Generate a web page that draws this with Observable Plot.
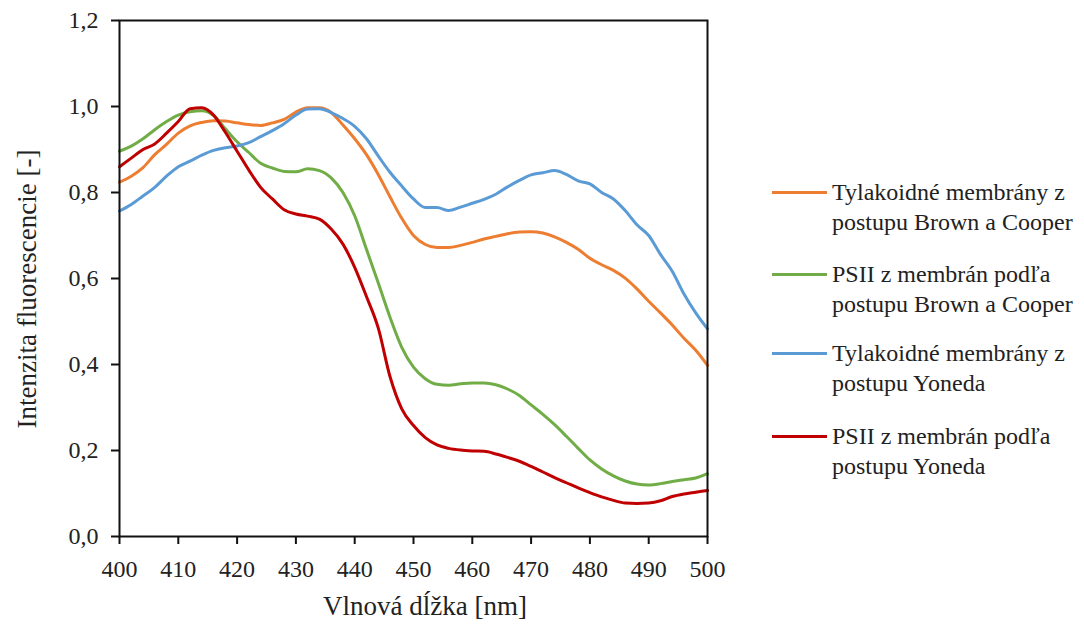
<!DOCTYPE html>
<html>
<head>
<meta charset="utf-8">
<script src="https://cdn.jsdelivr.net/npm/d3@7"></script>
<script src="https://cdn.jsdelivr.net/npm/@observablehq/plot@0.6"></script>
<style>
  html, body { margin: 0; padding: 0; background: #fff; }
  #wrap { position: relative; width: 1084px; height: 628px; font-family: 'Liberation Serif', serif; color: #222; }
  #wrap svg { position: absolute; left: 0; top: 0; font-family: 'Liberation Serif', serif; }
  .ttl { position: absolute; font-family: 'Liberation Serif', serif; font-size: 27px; line-height: 1; white-space: nowrap; }
  .leg { position: absolute; left: 772px; display: flex; align-items: flex-start; }
  .sw { width: 55px; height: 3px; }
  .lt { font-family: 'Liberation Serif', serif; font-size: 24px; line-height: 30px; margin-left: 5px; white-space: nowrap; }
</style>
</head>
<body>
<div id="wrap"></div>
<script>
const wavelengths = [400,402,404,406,408,410,412,414,416,418,420,422,424,426,428,430,432,434,436,438,440,442,444,446,448,450,452,454,456,458,460,462,464,466,468,470,472,474,476,478,480,482,484,486,488,490,492,494,496,498,500];

const tylBrownCooper = [0.824,0.838,0.858,0.888,0.912,0.938,0.955,0.963,0.967,0.966,0.962,0.958,0.956,0.962,0.970,0.987,0.997,0.997,0.986,0.957,0.925,0.888,0.842,0.790,0.740,0.700,0.679,0.672,0.672,0.677,0.684,0.692,0.698,0.704,0.708,0.709,0.706,0.697,0.684,0.668,0.647,0.632,0.619,0.601,0.576,0.547,0.520,0.492,0.461,0.433,0.398];

const psiiBrownCooper = [0.896,0.908,0.925,0.946,0.965,0.980,0.988,0.990,0.979,0.948,0.918,0.893,0.868,0.857,0.849,0.848,0.855,0.851,0.834,0.800,0.746,0.668,0.590,0.510,0.440,0.394,0.367,0.354,0.352,0.355,0.357,0.357,0.353,0.343,0.328,0.306,0.284,0.260,0.233,0.205,0.178,0.157,0.141,0.129,0.122,0.120,0.123,0.128,0.132,0.136,0.146];

const tylYoneda = [0.757,0.772,0.792,0.812,0.838,0.860,0.873,0.887,0.898,0.904,0.908,0.916,0.930,0.944,0.960,0.980,0.994,0.995,0.986,0.972,0.954,0.925,0.885,0.847,0.815,0.785,0.765,0.765,0.758,0.766,0.775,0.784,0.796,0.813,0.828,0.841,0.846,0.851,0.842,0.827,0.820,0.800,0.785,0.758,0.725,0.700,0.656,0.617,0.564,0.520,0.483];

const psiiYoneda = [0.860,0.880,0.900,0.913,0.938,0.965,0.995,0.997,0.980,0.940,0.896,0.852,0.812,0.785,0.760,0.750,0.745,0.738,0.715,0.680,0.626,0.558,0.485,0.372,0.297,0.258,0.230,0.213,0.205,0.201,0.199,0.198,0.192,0.184,0.175,0.163,0.150,0.137,0.125,0.113,0.102,0.092,0.084,0.078,0.077,0.078,0.083,0.093,0.099,0.103,0.107];

const seriesNames = [
  "Tylakoidné membrány z postupu Brown a Cooper",
  "PSII z membrán podľa postupu Brown a Cooper",
  "Tylakoidné membrány z postupu Yoneda",
  "PSII z membrán podľa postupu Yoneda"
];
const legendLines = [
  ["Tylakoidné membrány z", "postupu Brown a Cooper"],
  ["PSII z membrán podľa", "postupu Brown a Cooper"],
  ["Tylakoidné membrány z", "postupu Yoneda"],
  ["PSII z membrán podľa", "postupu Yoneda"]
];
const seriesColors = ["#ED7D31", "#70AD47", "#5B9BD5", "#C00000"];
const seriesValues = [tylBrownCooper, psiiBrownCooper, tylYoneda, psiiYoneda];

const xTicks = [400,410,420,430,440,450,460,470,480,490,500];
const yTicks = [0,0.2,0.4,0.6,0.8,1.0,1.2];
const xTitle = "Vlnová dĺžka [nm]";
const yTitle = "Intenzita fluorescencie [-]";

const rows = [];
seriesNames.forEach((name, i) => {
  wavelengths.forEach((w, j) => rows.push({series: name, x: w, y: seriesValues[i][j]}));
});

const fmt = d => d.toFixed(1).replace(".", ",");

const chart = Plot.plot({
  width: 1084,
  height: 628,
  marginLeft: 119,
  marginRight: 377,
  marginTop: 20,
  marginBottom: 92,
  style: {fontFamily: "'Liberation Serif', serif", fontSize: "24px", color: "#222", background: "transparent"},
  x: {domain: [400, 500], label: null},
  y: {domain: [0, 1.2], label: null},
  color: {domain: seriesNames, range: seriesColors},
  marks: [
    Plot.line(rows, {x: "x", y: "y", z: "series", stroke: "series", strokeWidth: 3, curve: "monotone-x"}),
    Plot.frame({stroke: "#111", strokeWidth: 2}),
    Plot.axisX({ticks: xTicks, tickSize: 8, tickPadding: 15, fontSize: 24, fontFamily: "'Liberation Serif', serif", stroke: "#111", strokeWidth: 2, label: null}),
    Plot.axisY({ticks: yTicks, tickSize: 8, tickPadding: 13, fontSize: 24, fontFamily: "'Liberation Serif', serif", stroke: "#111", strokeWidth: 2, tickFormat: fmt, label: null})
  ]
});

const wrap = document.getElementById("wrap");
wrap.appendChild(chart);

const xt = document.createElement("div");
xt.className = "ttl";
xt.textContent = xTitle;
xt.style.left = "425px";
xt.style.top = "593px";
xt.style.transform = "translateX(-50%)";
wrap.appendChild(xt);

const yt = document.createElement("div");
yt.className = "ttl";
yt.textContent = yTitle;
yt.style.left = "27px";
yt.style.top = "289px";
yt.style.transform = "translate(-50%, -50%) rotate(-90deg)";
wrap.appendChild(yt);

const legendTops = [177, 259, 338, 421];
legendLines.forEach((lines, i) => {
  const row = document.createElement("div");
  row.className = "leg";
  row.style.top = legendTops[i] + "px";
  const sw = document.createElement("div");
  sw.className = "sw";
  sw.style.background = seriesColors[i];
  sw.style.marginTop = "14px";
  const lt = document.createElement("div");
  lt.className = "lt";
  lt.innerHTML = lines.join("<br>");
  row.appendChild(sw);
  row.appendChild(lt);
  wrap.appendChild(row);
});
</script>
</body>
</html>
